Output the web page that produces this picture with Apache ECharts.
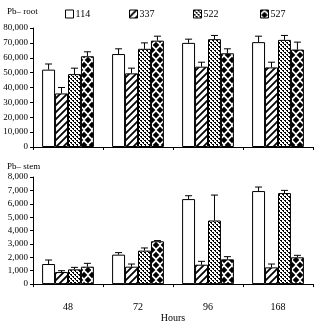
<!DOCTYPE html>
<html>
<head>
<meta charset="utf-8">
<script src="https://cdn.jsdelivr.net/npm/echarts@6/dist/echarts.min.js"></script>
<style>
  html, body { margin: 0; padding: 0; background: #fff; }
  #chart { width: 317px; height: 324px; }
</style>
</head>
<body>
<div id="chart"></div>
<script>
var hours = ['48', '72', '96', '168'];
var lines = ['114', '337', '522', '527'];

// Pb in root
var root114 = [52000, 62500, 70000, 70500];
var root337 = [36000, 49500, 54000, 53500];
var root522 = [49000, 66000, 72500, 72000];
var root527 = [61000, 71500, 63000, 65500];
var rootErr114 = [3800, 3500, 2500, 4000];
var rootErr337 = [4000, 3500, 3000, 3500];
var rootErr522 = [4000, 4000, 2500, 3000];
var rootErr527 = [3000, 3000, 3000, 5000];

// Pb in stem
var stem114 = [1500, 2200, 6350, 6950];
var stem337 = [900, 1300, 1450, 1250];
var stem522 = [1100, 2500, 4750, 6800];
var stem527 = [1300, 3200, 1850, 2000];
var stemErr114 = [300, 150, 250, 300];
var stemErr337 = [100, 200, 250, 250];
var stemErr522 = [150, 200, 1900, 200];
var stemErr527 = [250, 50, 200, 150];

var FONT = 'Liberation Serif';
var GAP = 0.26;

function makeTile(w, h, draw) {
  var c = document.createElement('canvas');
  c.width = w; c.height = h;
  draw(c.getContext('2d'));
  return { image: c, repeat: 'repeat' };
}
var patterns = [
  '#ffffff',
  makeTile(7, 7, function (g) {
    g.fillStyle = '#fff'; g.fillRect(0, 0, 7, 7);
    g.strokeStyle = '#000'; g.lineWidth = 1.8;
    g.beginPath();
    g.moveTo(-1, 8); g.lineTo(8, -1);
    g.moveTo(-5, 5); g.lineTo(5, -5);
    g.moveTo(2, 12); g.lineTo(12, 2);
    g.stroke();
  }),
  makeTile(4, 4, function (g) {
    g.fillStyle = '#fff'; g.fillRect(0, 0, 4, 4);
    g.fillStyle = '#000';
    g.fillRect(0, 0, 2, 1); g.fillRect(1, 1, 1, 1);
    g.fillRect(2, 2, 2, 1); g.fillRect(3, 3, 1, 1);
  }),
  makeTile(8, 10, function (g) {
    g.fillStyle = '#fff'; g.fillRect(0, 0, 8, 10);
    g.fillStyle = '#000';
    function dia(x, y) {
      g.beginPath();
      g.moveTo(x, y - 3.3); g.lineTo(x + 3.3, y); g.lineTo(x, y + 3.3); g.lineTo(x - 3.3, y);
      g.closePath(); g.fill();
    }
    dia(0, 0); dia(8, 0); dia(0, 10); dia(8, 10); dia(4, 5);
  })
];

function barSeries(name, data, idx) {
  return {
    name: name, type: 'bar', data: data,
    xAxisIndex: idx, yAxisIndex: idx,
    barGap: '0%', barCategoryGap: (GAP * 100) + '%',
    itemStyle: { color: patterns[lines.indexOf(name)], borderColor: '#000', borderWidth: 1 }
  };
}

function errSeries(k, vals, errs, idx) {
  var data = vals.map(function (v, i) { return [i, v, errs[i]]; });
  return {
    type: 'custom', xAxisIndex: idx, yAxisIndex: idx, z: 5,
    data: data,
    renderItem: function (params, api) {
      var v = api.value(1), e = api.value(2);
      var base = api.coord([api.value(0), v]);
      var top = api.coord([api.value(0), v + e]);
      var band = api.size([1, 0])[0];
      var bw = band * (1 - GAP) / 4;
      var cx = base[0] + (k - 1.5) * bw;
      var s = { stroke: '#000', lineWidth: 1 };
      return {
        type: 'group',
        children: [
          { type: 'line', shape: { x1: cx, y1: base[1], x2: cx, y2: top[1] }, style: s },
          { type: 'line', shape: { x1: cx - 3.5, y1: top[1], x2: cx + 3.5, y2: top[1] }, style: s }
        ]
      };
    }
  };
}

function yAxis(idx, max, interval) {
  return {
    gridIndex: idx, type: 'value', min: 0, max: max, interval: interval,
    axisLine: { show: true, lineStyle: { color: '#000', width: 1 } },
    axisTick: { show: true, length: 3, lineStyle: { color: '#000' } },
    splitLine: { show: false },
    axisLabel: {
      color: '#000', fontFamily: FONT, fontSize: 9, margin: 5,
      formatter: function (v) { return v.toLocaleString('en-US'); }
    }
  };
}

function xAxis(idx, showLabel) {
  return {
    gridIndex: idx, type: 'category', data: hours,
    axisLine: { show: true, lineStyle: { color: '#000', width: 1 } },
    axisTick: { show: true, length: 3, lineStyle: { color: '#000' } },
    axisLabel: { show: showLabel, color: '#000', fontFamily: FONT, fontSize: 10, margin: 18 },
    name: showLabel ? 'Hours' : '', nameLocation: 'middle', nameGap: 25,
    nameTextStyle: { color: '#000', fontFamily: FONT, fontSize: 10 }
  };
}

function legend(name, left) {
  return {
    data: [name], left: left, top: 4, itemWidth: 8, itemHeight: 8, itemGap: 2,
    icon: 'rect', selectedMode: false,
    itemStyle: { borderColor: '#000', borderWidth: 1 },
    textStyle: { color: '#000', fontFamily: FONT, fontSize: 10, padding: [0, 0, 0, -3] }
  };
}

var chart = echarts.init(document.getElementById('chart'));
chart.setOption({
  animation: false,
  backgroundColor: '#fff',
  title: [
    { text: 'Pb– root', left: 2, top: 2, textStyle: { color: '#000', fontFamily: FONT, fontSize: 9, fontWeight: 'normal' } },
    { text: 'Pb– stem', left: 2, top: 157, textStyle: { color: '#000', fontFamily: FONT, fontSize: 9, fontWeight: 'normal' } }
  ],
  legend: [legend('114', 60), legend('337', 124), legend('522', 188), legend('527', 255)],
  grid: [
    { left: 33, right: 4, top: 28, height: 119 },
    { left: 33, right: 4, top: 177, height: 116 }
  ],
  xAxis: [xAxis(0, false), xAxis(1, true)],
  yAxis: [yAxis(0, 80000, 10000), yAxis(1, 8000, 1000)],
  series: [
    barSeries('114', root114, 0), barSeries('337', root337, 0),
    barSeries('522', root522, 0), barSeries('527', root527, 0),
    barSeries('114', stem114, 1), barSeries('337', stem337, 1),
    barSeries('522', stem522, 1), barSeries('527', stem527, 1),
    errSeries(0, root114, rootErr114, 0), errSeries(1, root337, rootErr337, 0),
    errSeries(2, root522, rootErr522, 0), errSeries(3, root527, rootErr527, 0),
    errSeries(0, stem114, stemErr114, 1), errSeries(1, stem337, stemErr337, 1),
    errSeries(2, stem522, stemErr522, 1), errSeries(3, stem527, stemErr527, 1)
  ]
});
</script>
</body>
</html>
